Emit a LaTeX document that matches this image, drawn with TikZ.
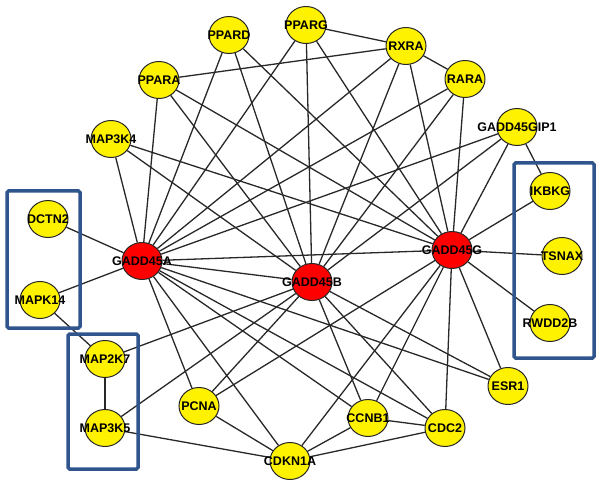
\documentclass[tikz,border=0pt]{standalone}
\usepackage{fontspec}
\setmainfont{Liberation Sans}
\usetikzlibrary{shapes.geometric,backgrounds}
\definecolor{boxblue}{RGB}{47,85,140}
\definecolor{edgegray}{RGB}{40,40,40}
\tikzset{
  gnode/.style={ellipse, draw=black!85, line width=1pt, minimum width=40pt, minimum height=37pt, inner sep=0pt},
  ynode/.style={gnode, fill=yellow},
  rnode/.style={gnode, fill=red},
  lab/.style={font=\bfseries\fontsize{12.5}{12.5}\selectfont, text=black},
  edge/.style={draw=edgegray, line width=1.3pt},
  groupbox/.style={draw=boxblue, line width=3.5pt, rounded corners=1.5pt}
}
\begin{document}
\begin{tikzpicture}[x=1pt,y=-1pt]
\useasboundingbox (0,0) rectangle (602,486);
% nodes
\node[ynode, label={[lab]center:PPARD}] (PPARD) at (229,35) {};
\node[ynode, label={[lab]center:PPARG}] (PPARG) at (306,25) {};
\node[ynode, label={[lab]center:RXRA}] (RXRA) at (406,46) {};
\node[ynode, label={[lab]center:RARA}] (RARA) at (465,79) {};
\node[ynode, label={[lab]center:GADD45GIP1}] (GIP1) at (517,127) {};
\node[ynode, label={[lab]center:IKBKG}] (IKBKG) at (550,191) {};
\node[ynode, label={[lab]center:TSNAX}] (TSNAX) at (562,256) {};
\node[ynode, label={[lab]center:RWDD2B}] (RWDD2B) at (550,323) {};
\node[ynode, label={[lab]center:ESR1}] (ESR1) at (508,386) {};
\node[ynode, label={[lab]center:CDC2}] (CDC2) at (445,428) {};
\node[ynode, label={[lab]center:CCNB1}] (CCNB1) at (368,418) {};
\node[ynode, label={[lab]center:CDKN1A}] (CDKN1A) at (290,461) {};
\node[ynode, label={[lab]center:PCNA}] (PCNA) at (199,406) {};
\node[ynode, label={[lab]center:MAP3K5}] (MAP3K5) at (105,428) {};
\node[ynode, label={[lab]center:MAP2K7}] (MAP2K7) at (105,359) {};
\node[ynode, label={[lab]center:MAPK14}] (MAPK14) at (40,300) {};
\node[ynode, label={[lab]center:DCTN2}] (DCTN2) at (48,219) {};
\node[ynode, label={[lab]center:MAP3K4}] (MAP3K4) at (111,139) {};
\node[ynode, label={[lab]center:PPARA}] (PPARA) at (159,80) {};
\node[rnode, label={[lab]center:GADD45A}] (GA) at (142,261) {};
\node[rnode, label={[lab]center:GADD45B}] (GB) at (312,282) {};
\node[rnode, label={[lab]center:GADD45G}] (GG) at (452,250) {};
% edges
\begin{scope}[on background layer]
\foreach \n in {DCTN2,MAPK14,MAP3K4,PPARA,PPARD,PPARG,RXRA,RARA,GIP1,GG,GB,PCNA,CDKN1A,CCNB1,CDC2,ESR1}
  \draw[edge] (GA) -- (\n);
\foreach \n in {MAP3K4,PPARA,PPARD,PPARG,RXRA,RARA,GIP1,MAP2K7,MAP3K5,PCNA,CCNB1,CDC2,ESR1}
  \draw[edge] (GB) -- (\n);
\foreach \n in {MAP3K4,PPARA,PPARD,PPARG,RXRA,RARA,GIP1,IKBKG,TSNAX,RWDD2B,PCNA,CDKN1A,CCNB1,CDC2,ESR1}
  \draw[edge] (GG) -- (\n);
\draw[edge] (PPARA) -- (RXRA);
\draw[edge] (PPARG) -- (RXRA);
\draw[edge] (RXRA) -- (RARA);
\draw[edge] (GIP1) -- (IKBKG);
\draw[edge] (MAPK14) -- (MAP2K7);
\draw[edge] (MAP2K7) -- (MAP3K5);
\draw[edge] (MAP3K5) -- (CDKN1A);
\draw[edge] (PCNA) -- (CDKN1A);
\draw[edge] (CCNB1) -- (CDKN1A);
\draw[edge] (CDC2) -- (CDKN1A);
\draw[edge] (CCNB1) -- (CDC2);
\end{scope}
% group boxes
\draw[groupbox] (7,191) rectangle (80,328);
\draw[groupbox] (68,334) rectangle (138,469);
\draw[groupbox] (514,163) rectangle (594,358);
\end{tikzpicture}
\end{document}
